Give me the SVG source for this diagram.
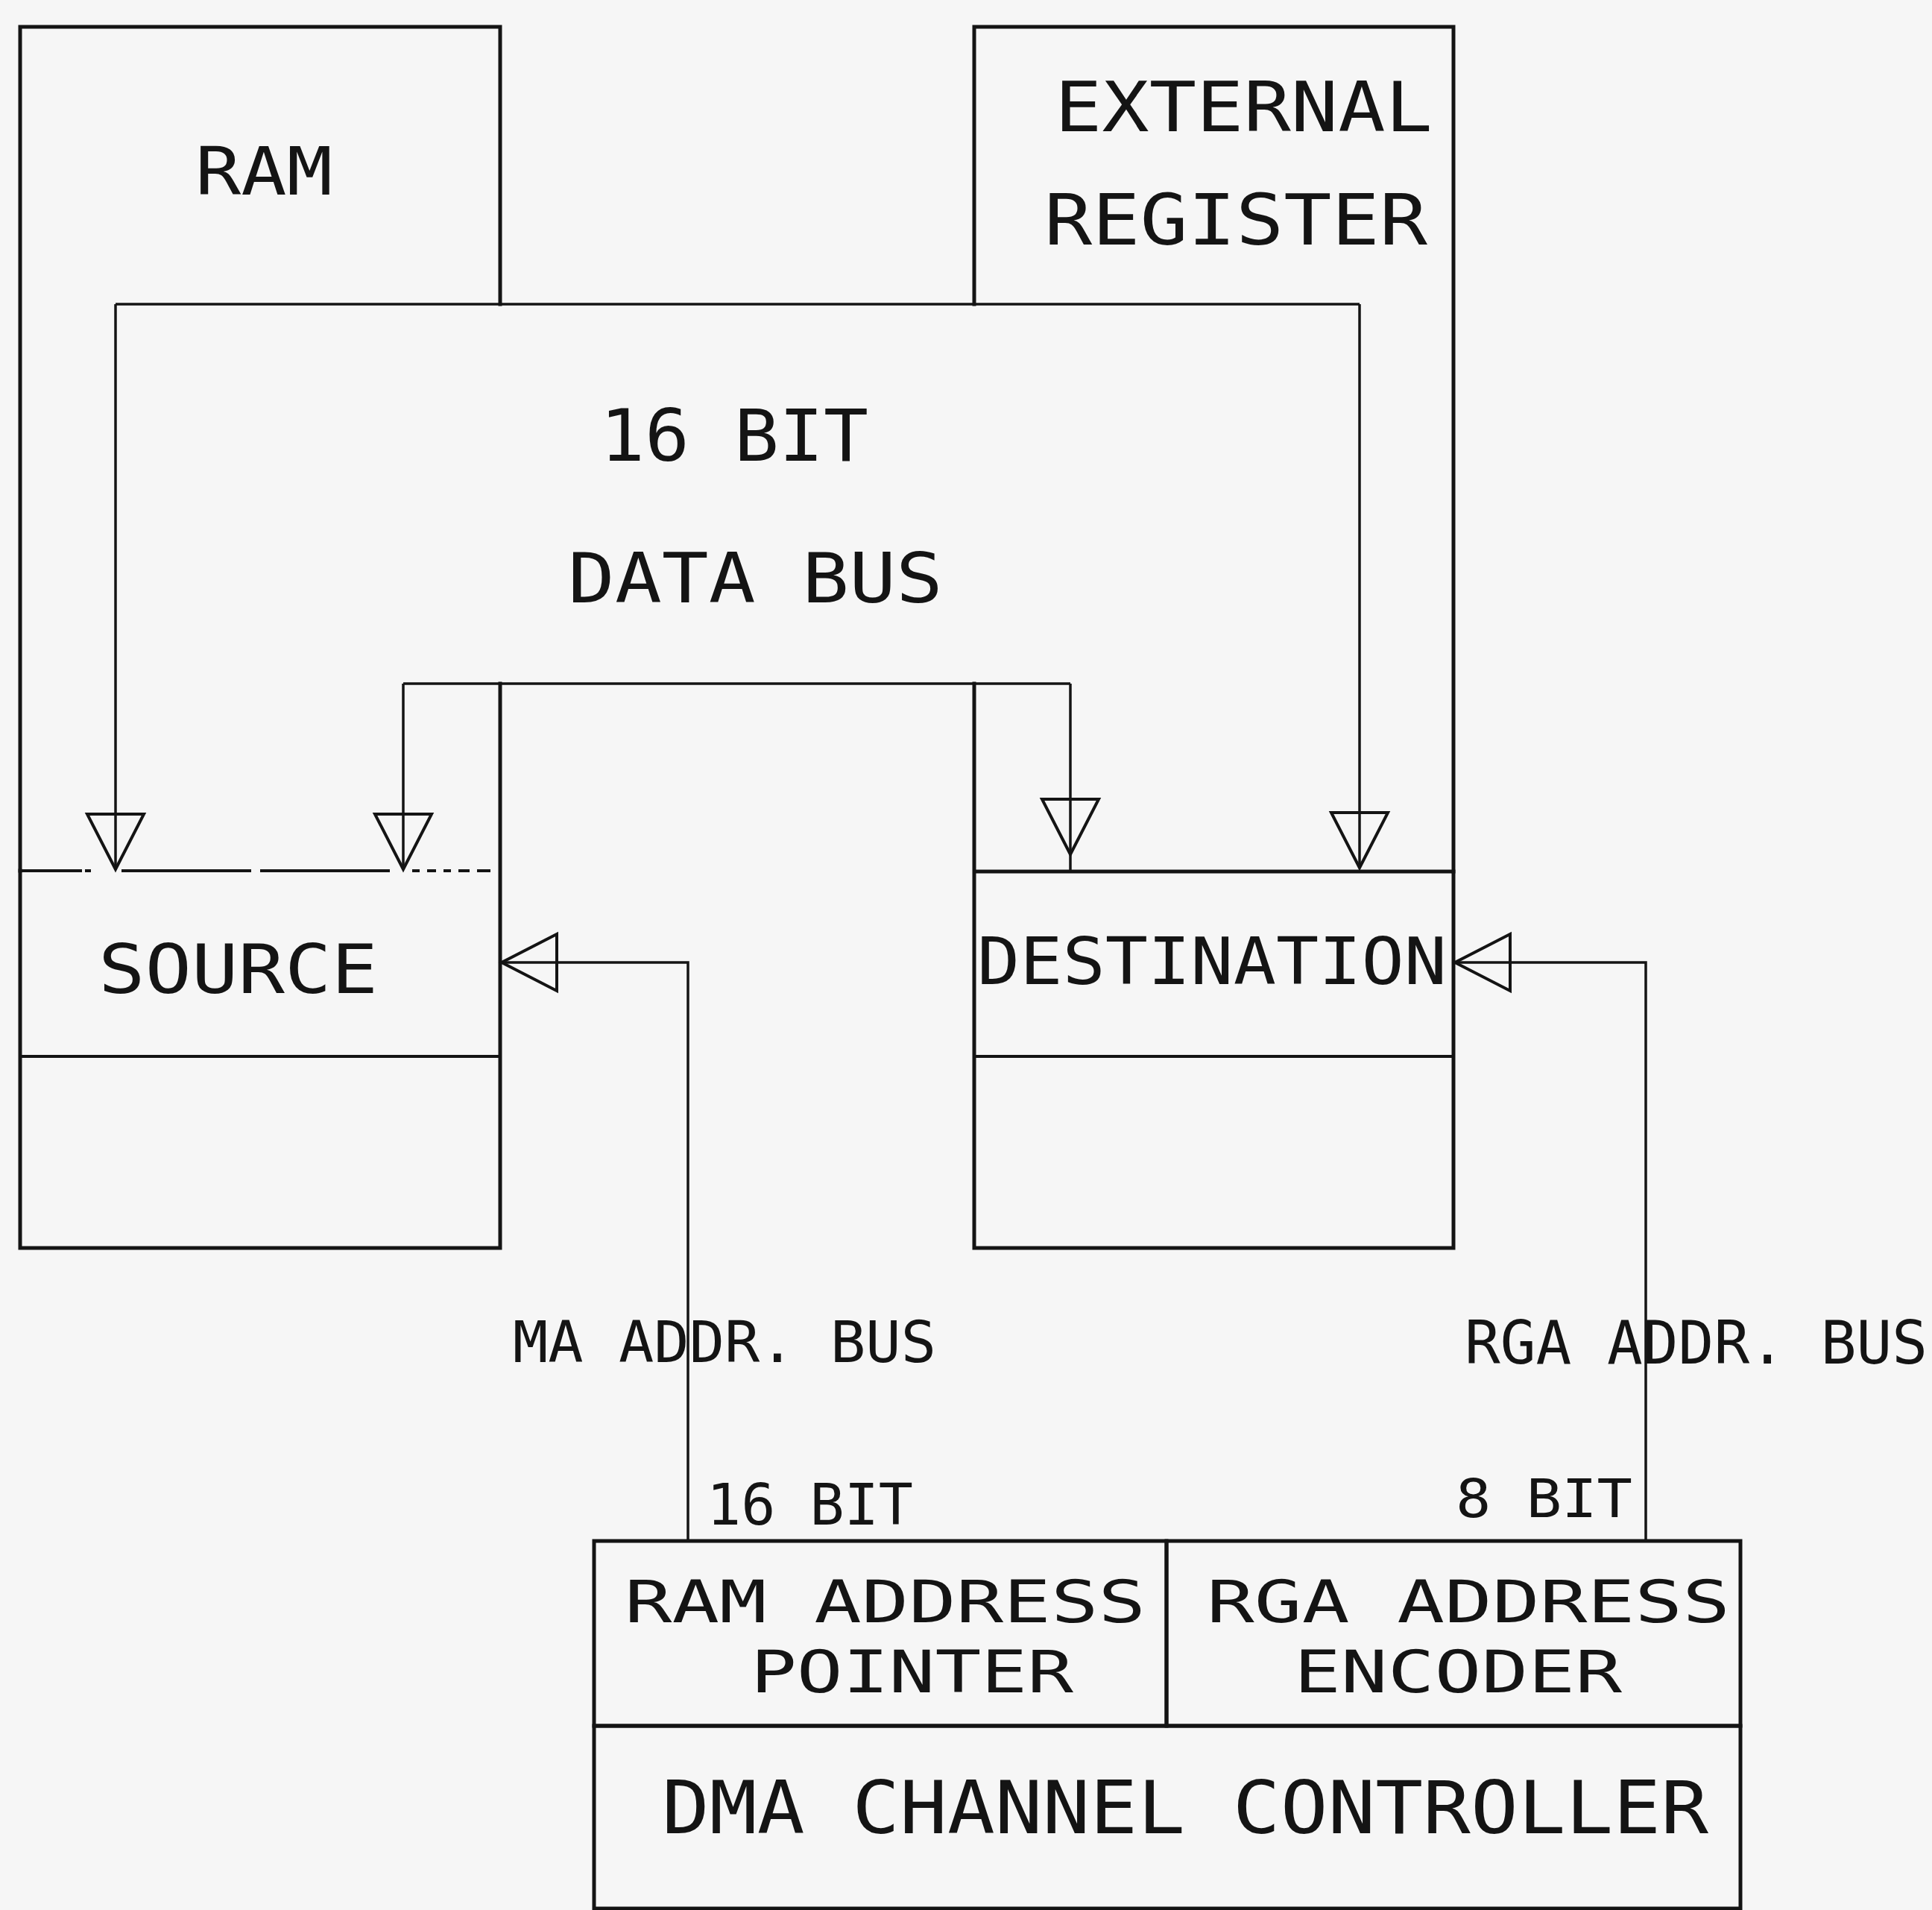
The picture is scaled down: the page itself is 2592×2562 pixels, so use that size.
<svg xmlns="http://www.w3.org/2000/svg" width="2592" height="2562" viewBox="0 0 2592 2562">
<style>
.bx{fill:none;stroke:#141414;stroke-width:5;stroke-linecap:square;stroke-linejoin:miter}
.dv{fill:none;stroke:#141414;stroke-width:4}
.cn{fill:none;stroke:#141414;stroke-width:3.5}
.t{font-family:"DejaVu Sans Mono","Liberation Mono",monospace;fill:#141414}
</style>
<defs>
<marker id="tri" viewBox="0 0 76 78" refX="74" refY="39" markerWidth="76" markerHeight="78" markerUnits="userSpaceOnUse" orient="auto" overflow="visible">
<path d="M74,39 L0,1 L0,77 Z" fill="none" stroke="#141414" stroke-width="4" stroke-linejoin="miter"/>
</marker>
</defs>
<rect x="0" y="0" width="2592" height="2562" fill="#f6f6f6"/>

<g id="ram">
<path class="bx" d="M27,1168 V36 H671 V408"/>
<text class="t" x="262" y="261" font-size="89" textLength="184" lengthAdjust="spacingAndGlyphs">RAM</text>
</g>

<g id="source">
<path class="bx" d="M27,1168 V1674 H671 V917"/>
<path class="dv" d="M27,1168 H110 M114,1168 H122 M163,1168 H337 M349,1168 H523 M553,1168 H563 M573,1168 H585 M595,1168 H605 M615,1168 H630 M640,1168 H658"/>
<path class="dv" d="M27,1417 H671"/>
<text class="t" x="132" y="1332" font-size="90" textLength="375" lengthAdjust="spacingAndGlyphs">SOURCE</text>
</g>

<g id="external-register">
<path class="bx" d="M1307,408 V36 H1950 V1169"/>
<text class="t" x="1415" y="176" font-size="92" textLength="507" lengthAdjust="spacingAndGlyphs">EXTERNAL</text>
<text class="t" x="1401" y="328" font-size="94" textLength="514" lengthAdjust="spacingAndGlyphs">REGISTER</text>
</g>

<g id="destination">
<path class="bx" d="M1307,917 V1674 H1950 V1169 H1307"/>
<path class="dv" d="M1307,1417 H1950"/>
<text class="t" x="1311" y="1320" font-size="87" textLength="630" lengthAdjust="spacingAndGlyphs">DESTINATION</text>
</g>

<g id="ram-address-pointer">
<rect class="bx" x="797" y="2067" width="768" height="248"/>
<text class="t" x="838" y="2176" font-size="78" textLength="699" lengthAdjust="spacingAndGlyphs">RAM ADDRESS</text>
<text class="t" x="1007" y="2270" font-size="78" textLength="433" lengthAdjust="spacingAndGlyphs">POINTER</text>
</g>

<g id="rga-address-encoder">
<rect class="bx" x="1565" y="2067" width="770" height="248"/>
<text class="t" x="1619" y="2176" font-size="78" textLength="702" lengthAdjust="spacingAndGlyphs">RGA ADDRESS</text>
<text class="t" x="1736" y="2270" font-size="78" textLength="440" lengthAdjust="spacingAndGlyphs">ENCODER</text>
</g>

<g id="dma-channel-controller">
<rect class="bx" x="797" y="2315" width="1538" height="245"/>
<text class="t" x="888" y="2459" font-size="98" textLength="1404" lengthAdjust="spacingAndGlyphs">DMA CHANNEL CONTROLLER</text>
</g>

<g id="connectors">
<path class="cn" d="M155,408 H1824"/>
<path class="cn" d="M155,408 V1166" marker-end="url(#tri)"/>
<path class="cn" d="M1824,408 V1164" marker-end="url(#tri)"/>
<path class="cn" d="M541,917 H1436"/>
<path class="cn" d="M541,917 V1166" marker-end="url(#tri)"/>
<path class="cn" d="M1436,917 V1146" marker-end="url(#tri)"/>
<path class="cn" d="M1436,1146 V1169"/>
<path class="cn" d="M923,2067 V1291 H673" marker-end="url(#tri)"/>
<path class="cn" d="M2208,2067 V1291 H1952" marker-end="url(#tri)"/>
</g>

<g id="labels">
<text class="t" x="805" y="618" font-size="97" textLength="360" lengthAdjust="spacingAndGlyphs">16 BIT</text>
<text class="t" x="762" y="808" font-size="92" textLength="503" lengthAdjust="spacingAndGlyphs">DATA BUS</text>
<text class="t" x="688" y="1827" font-size="76" textLength="568" lengthAdjust="spacingAndGlyphs">MA ADDR. BUS</text>
<text class="t" x="1965" y="1829" font-size="80" textLength="621" lengthAdjust="spacingAndGlyphs">RGA ADDR. BUS</text>
<text class="t" x="948" y="2045" font-size="76" textLength="277" lengthAdjust="spacingAndGlyphs">16 BIT</text>
<text class="t" x="1953" y="2035" font-size="72" textLength="237" lengthAdjust="spacingAndGlyphs">8 BIT</text>
</g>
</svg>
